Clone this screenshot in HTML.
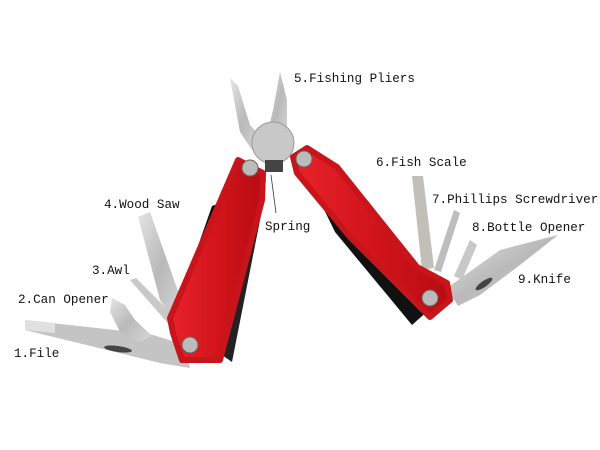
<!DOCTYPE html>
<html><head><style>
html,body{margin:0;padding:0;background:#fff;width:600px;height:450px;overflow:hidden}
svg{position:absolute;left:0;top:0}
text{font-family:"Liberation Mono",monospace;font-size:12.6px;fill:#111}
</style></head><body>
<svg width="600" height="450" viewBox="0 0 600 450">
<defs>
<linearGradient id="st" x1="0" y1="0" x2="1" y2="1"><stop offset="0" stop-color="#e4e4e4"/><stop offset="0.5" stop-color="#b9b9b9"/><stop offset="1" stop-color="#d8d8d8"/></linearGradient>
<linearGradient id="rd" x1="0" y1="0" x2="1" y2="0"><stop offset="0" stop-color="#e8232a"/><stop offset="0.5" stop-color="#d2141b"/><stop offset="1" stop-color="#b80c12"/></linearGradient>
</defs>
<!-- left tools -->
<polygon points="25,320 150,334 185,345 190,368 160,363 25,330" fill="#c4c4c4"/>
<polygon points="25,320 55,323 55,333 25,330" fill="#e0e0e0"/>
<ellipse cx="118" cy="349" rx="14" ry="3" fill="#444" transform="rotate(8 118 349)"/>
<polygon points="112,298 125,305 135,320 152,336 140,342 120,332 110,312" fill="url(#st)"/>
<polygon points="130,280 136,278 180,322 172,328" fill="#c8c8c8"/>
<polygon points="138,217 150,212 184,308 176,322 160,300" fill="url(#st)"/>
<!-- pliers -->
<polygon points="230,78 238,86 250,125 262,138 252,150 240,132" fill="url(#st)"/>
<polygon points="280,72 287,100 287,130 278,148 266,140 273,110" fill="url(#st)"/>
<circle cx="273" cy="143" r="21" fill="#c8c8c8" stroke="#999"/>
<rect x="265" y="160" width="18" height="12" fill="#444"/>
<!-- left handle -->
<polygon points="212,206 228,200 200,330 180,330 172,320" fill="#111"/>
<polygon points="222,355 255,205 266,178 262,210 232,362" fill="#222"/>
<polygon points="238,160 263,173 262,200 220,360 182,360 173,333 170,318" fill="url(#rd)" stroke="#c8141b" stroke-width="6" stroke-linejoin="round"/>
<circle cx="250" cy="168" r="8" fill="#bbb" stroke="#666"/>
<circle cx="190" cy="345" r="8" fill="#bbb" stroke="#666"/>
<!-- right tools -->
<polygon points="412,176 423,176 434,268 422,270" fill="#c0bfb8"/>
<polygon points="454,210 460,213 441,272 434,270" fill="#bdbdbd"/>
<polygon points="470,240 477,245 462,280 454,276" fill="#c8c8c8"/>
<polygon points="447,288 500,250 558,235 520,265 480,295 458,306" fill="url(#st)"/>
<ellipse cx="484" cy="284" rx="10" ry="3" fill="#444" transform="rotate(-35 484 284)"/>
<!-- right handle -->
<polygon points="317,195 350,182 440,300 412,325 335,232" fill="#111"/>
<polygon points="293,157 307,148 337,167 417,267 447,283 450,300 430,317 350,237 297,173" fill="url(#rd)" stroke="#c8141b" stroke-width="6" stroke-linejoin="round"/>
<circle cx="304" cy="159" r="8" fill="#bbb" stroke="#666"/>
<circle cx="430" cy="298" r="8" fill="#bbb" stroke="#666"/>
<line x1="271" y1="175" x2="276" y2="213" stroke="#333" stroke-width="0.8"/>
<!-- labels -->
<text x="294" y="82">5.Fishing Pliers</text>
<text x="376" y="166">6.Fish Scale</text>
<text x="104" y="208">4.Wood Saw</text>
<text x="432" y="203">7.Phillips Screwdriver</text>
<text x="265" y="230">Spring</text>
<text x="472" y="231">8.Bottle Opener</text>
<text x="92" y="274">3.Awl</text>
<text x="518" y="283">9.Knife</text>
<text x="18" y="303">2.Can Opener</text>
<text x="14" y="357">1.File</text>
</svg>
</body></html>
